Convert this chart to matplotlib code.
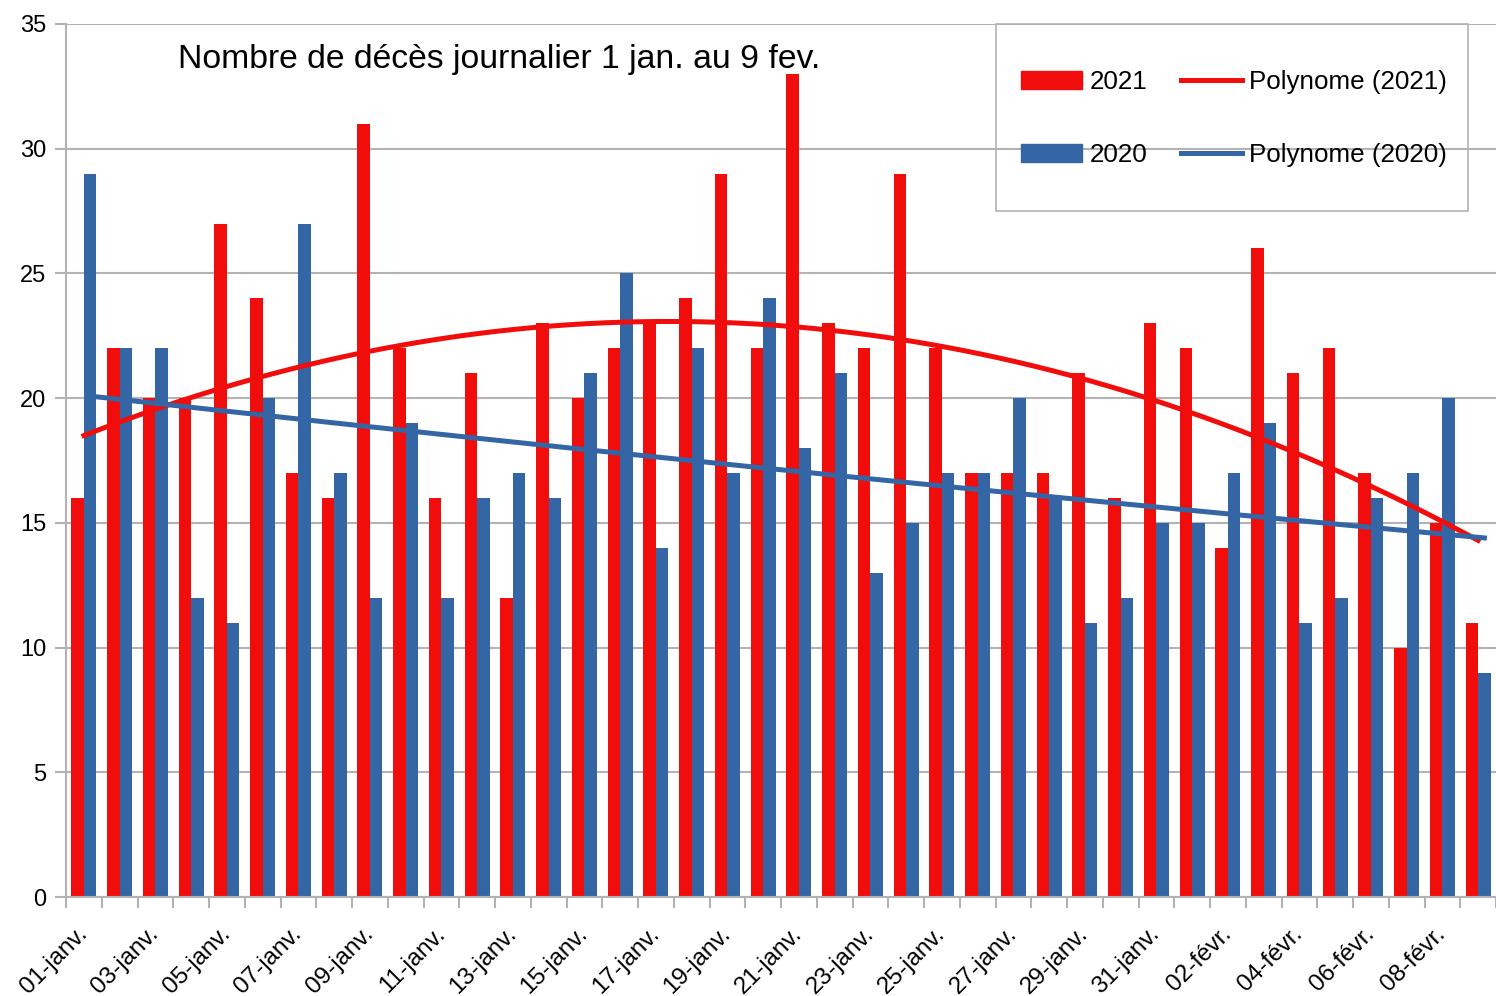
import numpy as np
import matplotlib
matplotlib.use("Agg")
import matplotlib.pyplot as plt
from matplotlib.patches import Rectangle
from matplotlib.lines import Line2D

plt.rcParams['font.family'] = ['Liberation Sans', 'DejaVu Sans']

days = ['01-janv.', '02-janv.', '03-janv.', '04-janv.', '05-janv.', '06-janv.', '07-janv.', '08-janv.',
        '09-janv.', '10-janv.', '11-janv.', '12-janv.', '13-janv.', '14-janv.', '15-janv.', '16-janv.',
        '17-janv.', '18-janv.', '19-janv.', '20-janv.', '21-janv.', '22-janv.', '23-janv.', '24-janv.',
        '25-janv.', '26-janv.', '27-janv.', '28-janv.', '29-janv.', '30-janv.', '31-janv.', '01-févr.',
        '02-févr.', '03-févr.', '04-févr.', '05-févr.', '06-févr.', '07-févr.', '08-févr.', '09-févr.']

deaths_2021 = [16, 22, 20, 20, 27, 24, 17, 16, 31, 22, 16, 21, 12, 23, 20, 22, 23, 24, 29, 22,
               33, 23, 22, 29, 22, 17, 17, 17, 21, 16, 23, 22, 14, 26, 21, 22, 17, 10, 15, 11]
deaths_2020 = [29, 22, 22, 12, 11, 20, 27, 17, 12, 19, 12, 16, 17, 16, 21, 25, 14, 22, 17, 24,
               18, 21, 13, 15, 17, 17, 20, 16, 11, 12, 15, 15, 17, 19, 11, 12, 16, 17, 20, 9]

red = '#f10d0c'
blue = '#3465a4'
grey = '#b3b3b3'

x = np.arange(1, len(days) + 1)
w = 0.35

fig = plt.figure(figsize=(14.96, 9.96), dpi=100)
ax = fig.add_axes([66 / 1496, 99 / 996, 1 - 66 / 1496, 873 / 996])

ax.bar(x - w / 2, deaths_2021, width=w, color=red, zorder=2)
ax.bar(x + w / 2, deaths_2020, width=w, color=blue, zorder=2)

# polynomial trend lines (order 2)
xs = np.linspace(1, len(days), 300)
p21 = np.polyfit(x, deaths_2021, 2)
p20 = np.polyfit(x, deaths_2020, 2)
ax.plot(xs, np.polyval(p21, xs), color=red, lw=3.6, zorder=3)
ax.plot(xs + w / 2, np.polyval(p20, xs), color=blue, lw=3.6, zorder=3)

ax.set_xlim(0.5, len(days) + 0.5)
ax.set_ylim(0, 35)
ax.set_yticks(range(0, 36, 5))
ax.yaxis.grid(True, color=grey, lw=1.5, zorder=0)
ax.set_axisbelow(True)

ax.set_xticks(x[::2])
ax.set_xticklabels(days[::2], rotation=45, ha='right', va='center', rotation_mode='anchor')
ax.set_xticks(np.arange(0.5, len(days) + 1), minor=True)
ax.tick_params(axis='x', which='major', length=0, pad=24, labelsize=17.5)
ax.tick_params(axis='x', which='minor', length=8, width=1.5, color=grey)
ax.tick_params(axis='y', length=8, width=1.5, color=grey, labelsize=17, pad=6)

for s in ['top', 'right']:
    ax.spines[s].set_visible(False)
for s in ['left', 'bottom']:
    ax.spines[s].set_color(grey)
    ax.spines[s].set_linewidth(1.5)

fig.text(178 / 1496, 1 - 68 / 996, 'Nombre de décès journalier 1 jan. au 9 fev.',
         fontsize=24.3, va='baseline', ha='left')

handles = [Rectangle((0, 0), 1, 1, color=red), Rectangle((0, 0), 1, 1, color=blue),
           Line2D([], [], color=red, lw=3.6), Line2D([], [], color=blue, lw=3.6)]
labels = ['2021', '2020', 'Polynome (2021)', 'Polynome (2020)']
fig.legend(handles, labels, ncol=2, loc='upper left', frameon=False,
           bbox_to_anchor=(1021 / 1496, 1 - 70 / 996), borderpad=0, borderaxespad=0,
           fontsize=18.7, handlelength=2.35, handletextpad=0.28, columnspacing=1.3,
           labelspacing=1.9)
fig.patches.append(Rectangle((996 / 1496, 1 - 211 / 996), 472 / 1496, 187 / 996,
                             transform=fig.transFigure, fill=False, edgecolor=grey, lw=1.2))

fig.savefig('out.png', dpi=100)
